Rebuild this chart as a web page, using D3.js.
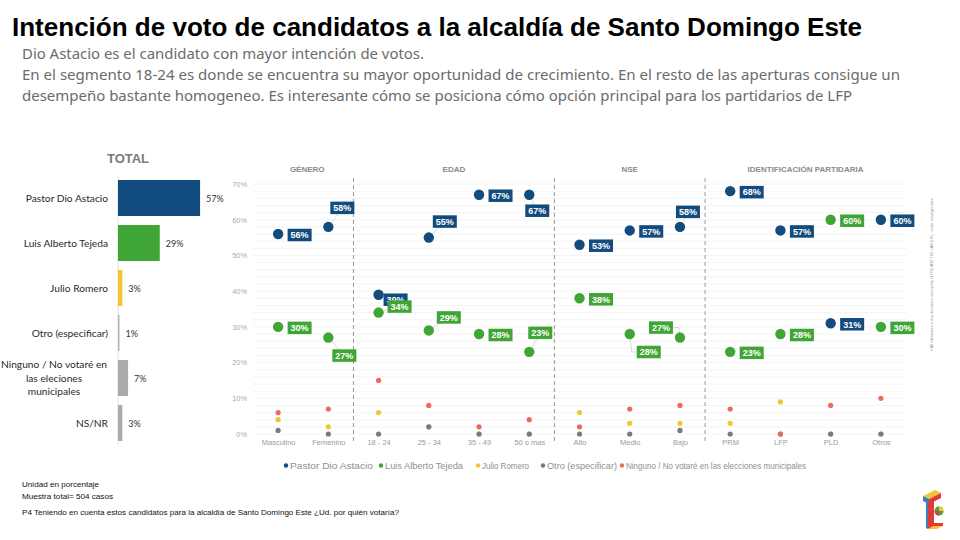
<!DOCTYPE html>
<html><head><meta charset="utf-8">
<script src="https://cdn.jsdelivr.net/npm/d3@7"></script>
<style>body{margin:0;background:#fff}svg{display:block}</style>
</head><body>
<svg id="c" width="960" height="540"></svg>
<script>
// ---------- DATA ----------
const titleText = "Intención de voto de candidatos a la alcaldía de Santo Domingo Este";
const subtitleLines = [
  "Dio Astacio es el candidato con mayor intención de votos.",
  "En el segmento 18-24 es donde se encuentra su mayor oportunidad de crecimiento. En el resto de las aperturas consigue un",
  "desempeño bastante homogeneo. Es interesante cómo se posiciona cómo opción principal para los partidarios de LFP"
];
const totalCats = ["Pastor Dio Astacio","Luis Alberto Tejeda","Julio Romero","Otro (especificar)","Ninguno / No votaré en las eleciones municipales","NS/NR"];
const totalLabelLines = [["Pastor Dio Astacio"],["Luis Alberto Tejeda"],["Julio Romero"],["Otro (especificar)"],["Ninguno / No votaré en","las eleciones","municipales"],["NS/NR"]];
const totalValues = [57,29,3,1,7,3];

const segments = ["Masculino","Femenino","18 - 24","25 - 34","35 - 49","50 o mas","Alto","Medio","Bajo","PRM","LFP","PLD","Otros"];
const groupNames = ["GÉNERO","EDAD","NSE","IDENTIFICACIÓN PARTIDARIA"];
const groupSizes = [2,4,3,4];

const seriesNames = ["Pastor Dio Astacio","Luis Alberto Tejeda","Julio Romero","Otro (especificar)","Ninguno / No votaré en las elecciones municipales"];
const astacio = [56,58,39,55,67,67,53,57,58,68,57,31,60];
const tejeda  = [30,27,34,29,28,23,38,28,27,23,28,60,30];
const romero  = [4,2,6,2,0,0,6,3,3,3,9,0,0];
const otro    = [1,0,0,2,0,0,0,0,1,0,0,0,0];
const ninguno = [6,7,15,8,2,4,2,7,8,7,0,8,10];
const yTicks = [0,10,20,30,40,50,60,70];

const footnotes = ["Unidad en porcentaje","Muestra total= 504 casos","P4 Teniendo en cuenta estos candidatos para la alcaldia de Santo Domingo Este ¿Ud. por quién votaría?"];

// ---------- STYLE / LAYOUT ----------
const colors = ["#124b7e","#3fa535","#f5c431","#7a7a7a","#ec6b5e"];
const barColors = ["#124b7e","#3fa535","#f5c431","#b0b0b0","#aaaaaa","#aaaaaa"];
// label box offsets (box centre relative to dot) for crowded points; default is to the right
const labelOffsets = {
  "0-1":[14,-19], "0-2":[17,5], "0-3":[16,-16], "0-5":[8,16], "0-8":[8,-15],
  "1-1":[16,18], "1-2":[21,-6], "1-3":[20,-13], "1-5":[11,-19], "1-7":[19,18,"elbow"], "1-8":[-19,-10,"elbowL"]
};

const svg = d3.select("#c");
const SANS = "'Liberation Sans', Arial, sans-serif";

// Title
svg.append("text").attr("x",12).attr("y",36).attr("font-family",SANS).attr("font-weight","bold")
  .attr("font-size",25.5).attr("fill","#000").attr("textLength",850).attr("lengthAdjust","spacingAndGlyphs").text(titleText);
const subLens = [402,878,830];
subtitleLines.forEach((t,i)=>{
  svg.append("text").attr("x",22).attr("y",59+i*20.8).attr("font-family","'Noto Sans', sans-serif")
    .attr("font-size",15).attr("fill","#6b6b6b").attr("textLength",subLens[i]).attr("lengthAdjust","spacingAndGlyphs").text(t);
});

// ---------- TOTAL bar chart ----------
svg.append("text").attr("x",128).attr("y",163).attr("text-anchor","middle").attr("font-family",SANS)
  .attr("font-weight","bold").attr("font-size",13).attr("fill","#7a7a7a").text("TOTAL");
const bx = d3.scaleLinear().domain([0,100]).range([118,262]);
const by = d3.scaleBand().domain(totalCats).range([175.5,445.5]).paddingInner(0.2).paddingOuter(0.1);
svg.append("line").attr("x1",bx(0)).attr("x2",bx(0)).attr("y1",176).attr("y2",445).attr("stroke","#e2e2e2");
const bars = svg.append("g");
totalCats.forEach((c,i)=>{
  bars.append("rect").attr("x",bx(0)).attr("y",by(c)).attr("width",bx(totalValues[i])-bx(0)).attr("height",by.bandwidth()).attr("fill",barColors[i]);
  bars.append("text").attr("x",bx(totalValues[i])+6).attr("y",by(c)+by.bandwidth()/2+4).attr("font-family","Lato, sans-serif")
    .attr("font-size",9).attr("fill","#333").text(totalValues[i]+"%");
  const lines = totalLabelLines[i];
  const cy = by(c)+by.bandwidth()/2;
  if(lines.length===1){
    bars.append("text").attr("x",108).attr("y",cy+3.5).attr("text-anchor","end").attr("font-family","Lato, sans-serif")
      .attr("font-size",10.2).attr("fill","#2a2a2a").text(lines[0]);
  } else {
    lines.forEach((l,j)=>{
      bars.append("text").attr("x",54).attr("y",cy+3.5+(j-1)*13.5).attr("text-anchor","middle").attr("font-family","Lato, sans-serif")
        .attr("font-size",10.2).attr("fill","#2a2a2a").text(l);
    });
  }
});

// ---------- Dot plot ----------
const x = d3.scalePoint().domain(segments).range([253,906]).padding(0.5);
const step = x.step();
const y = d3.scaleLinear().domain([0,70]).range([434,184]);

const grid = svg.append("g");
d3.range(0,71,2).forEach(v=>{
  grid.append("line").attr("x1",253).attr("x2",906).attr("y1",y(v)).attr("y2",y(v)).attr("stroke","#f1f1f1").attr("stroke-width",0.8);
});
const yAxis = d3.axisLeft(y).tickValues(yTicks).tickFormat(d=>d+"%").tickSize(0).tickPadding(0);
const ya = svg.append("g").attr("transform","translate(247,0)").call(yAxis);
ya.select(".domain").remove();
ya.selectAll("text").attr("font-family",SANS).attr("font-size",7.4).attr("fill","#aaa");

const xAxis = d3.axisBottom(x).tickSize(0).tickPadding(0);
const xa = svg.append("g").attr("transform","translate(0,440)").call(xAxis);
xa.select(".domain").remove();
xa.selectAll("text").attr("font-family",SANS).attr("font-size",7.5).attr("fill","#9a9a9a").attr("dy","0.71em");

// groups & dividers
let idx = 0;
groupSizes.forEach((n,g)=>{
  const first = segments[idx], last = segments[idx+n-1];
  const cx = (x(first)+x(last))/2 + (g===0?4:0);
  svg.append("text").attr("x",cx).attr("y",172).attr("text-anchor","middle").attr("font-family",SANS)
    .attr("font-weight","bold").attr("font-size",8).attr("fill","#8a8a8a").text(groupNames[g]);
  if(g<groupSizes.length-1){
    const dx = x(last)+step/2;
    svg.append("line").attr("x1",dx).attr("x2",dx).attr("y1",178).attr("y2",442).attr("stroke","#9a9a9a")
      .attr("stroke-width",1).attr("stroke-dasharray","4,3");
  }
  idx += n;
});

// small dots
const small = [[romero,2],[otro,3],[ninguno,4]];
small.forEach(([arr,si])=>{
  svg.append("g").selectAll("circle").data(arr).join("circle")
    .attr("cx",(d,i)=>x(segments[i])).attr("cy",d=>y(d)).attr("r",2.6).attr("fill",colors[si]);
});

// big dots + labels
const big = [[astacio,0],[tejeda,1]];
const labelsLayer = svg.append("g");
big.forEach(([arr,si])=>{
  svg.append("g").selectAll("circle").data(arr).join("circle")
    .attr("cx",(d,i)=>x(segments[i])).attr("cy",d=>y(d)).attr("r",5.2).attr("fill",colors[si]);
});
big.forEach(([arr,si])=>{
  arr.forEach((v,i)=>{
    const px = x(segments[i]), py = y(v);
    const off = labelOffsets[si+"-"+i];
    const w = 24, h = 12.5;
    let cx = px+21.5, cy = py+1;
    if(off){ cx = px+off[0]; cy = py+off[1]; }
    if(off){
      let path;
      if(off[2]==="elbow") path = `M${px},${py} L${px+2},${cy} L${cx-w/2},${cy}`;
      else if(off[2]==="elbowL") path = `M${px},${py} L${cx+w/2+6},${cy} L${cx+w/2},${cy}`;
      else path = `M${px},${py} L${cx},${cy}`;
      labelsLayer.append("path").attr("d",path).attr("fill","none").attr("stroke","#cfcfcf").attr("stroke-width",0.8);
    }
    labelsLayer.append("rect").attr("x",cx-w/2).attr("y",cy-h/2).attr("width",w).attr("height",h).attr("fill",colors[si]);
    labelsLayer.append("text").attr("x",cx).attr("y",cy+3.3).attr("text-anchor","middle").attr("font-family",SANS)
      .attr("font-weight","bold").attr("font-size",9).attr("fill","#fff").text(v+"%");
  });
});

// legend
const legX = [286,381,478,543,622];
const legLen = [83,78,47,70,180];
seriesNames.forEach((s,i)=>{
  svg.append("circle").attr("cx",legX[i]).attr("cy",465.5).attr("r",2.2).attr("fill",colors[i]);
  svg.append("text").attr("x",legX[i]+4).attr("y",468.8).attr("font-family",SANS).attr("font-size",8.6)
    .attr("fill","#8f8f8f").attr("textLength",legLen[i]).attr("lengthAdjust","spacingAndGlyphs").text(s);
});

// footnotes
const footY = [487,499,515], footLen = [77,91,377];
footnotes.forEach((t,i)=>{
  svg.append("text").attr("x",22).attr("y",footY[i]).attr("font-family",SANS).attr("font-size",7.6)
    .attr("fill","#111").attr("textLength",footLen[i]).attr("lengthAdjust","spacingAndGlyphs").text(t);
});

// vertical copyright
svg.append("text").attr("transform","translate(933,275) rotate(-90)").attr("text-anchor","middle")
  .attr("font-family",SANS).attr("font-size",3.6).attr("fill","#888")
  .text("© All information in this document is property of YOU ARE THE LAB S.R.L. under copyright laws");

// logo
const lg = svg.append("g").attr("transform","translate(921,490)");
lg.append("polygon").attr("points","2,6 14,0 20,3 8,9").attr("fill","#f5c431");
lg.append("polygon").attr("points","2,6 8,9 8,14 2,11").attr("fill","#3a7fc1");
lg.append("polygon").attr("points","8,9 20,3 20,8 8,14").attr("fill","#e23a3a");
lg.append("polygon").attr("points","7,13 13,10 13,36 7,39").attr("fill","#e23a3a");
lg.append("polygon").attr("points","5,12 7,13 7,39 5,38").attr("fill","#3a7fc1");
lg.append("polygon").attr("points","7,39 13,36 22,36 16,39").attr("fill","#f5c431");
lg.append("polygon").attr("points","13,33 22,33 22,36 13,36").attr("fill","#e23a3a");
lg.append("circle").attr("cx",18).attr("cy",21).attr("r",4.5).attr("fill","#3fa535");
lg.append("path").attr("d","M18,16.5 A4.5,4.5 0 0 1 22.5,21 L18,21 Z").attr("fill","#f5c431");
lg.append("path").attr("d","M13.5,21 A4.5,4.5 0 0 0 18,25.5 L18,21 Z").attr("fill","#e23a3a");
</script>
</body></html>
